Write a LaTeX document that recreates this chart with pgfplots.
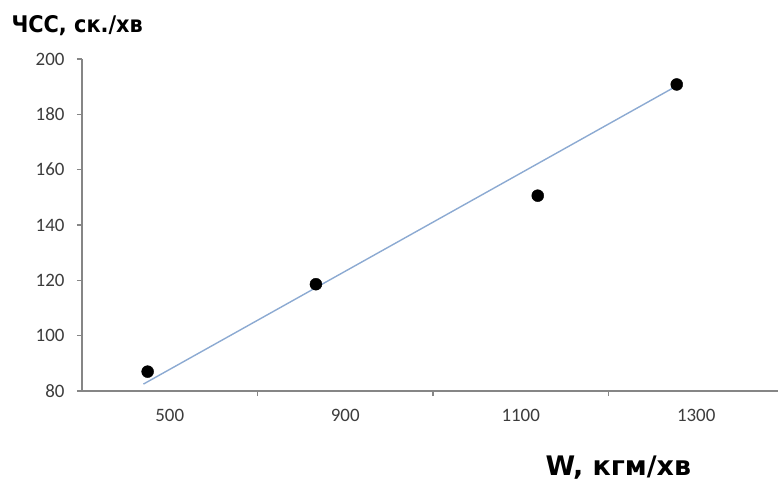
\documentclass[border=0pt]{standalone}
\usepackage{pgfplots}
\pgfplotsset{compat=1.18}
\usepackage{fontspec}
\setmainfont{Carlito}
\newfontfamily\titlefont[FakeStretch=0.91]{DejaVu Sans}
\newfontfamily\xlabfont{DejaVu Sans}
\definecolor{axgray}{RGB}{134,134,134}
\definecolor{tickgray}{RGB}{60,60,60}
\definecolor{trend}{RGB}{140,170,210}
\begin{document}
\begin{tikzpicture}
\begin{axis}[
  scale only axis, width=696bp, height=332bp,
  xmin=0, xmax=3.966, ymin=80, ymax=200,
  axis x line=bottom, axis y line=left,
  axis line style={-, draw=axgray, line width=1.2bp},
  ytick={80,100,...,200},
  xtick={0.5,1.5,2.5,3.5}, xticklabels={500,900,1100,1300},
  minor xtick={1,2,3},
  tick align=outside,
  major tick length=5bp, minor tick length=5bp,
  major x tick style={draw=none},
  minor x tick style={draw=axgray, line width=1.2bp},
  major y tick style={draw=axgray, line width=1.2bp},
  ticklabel style={font=\fontsize{19}{19}\selectfont, text=tickgray},
  xticklabel style={yshift=-10bp},
  yticklabel style={xshift=-9bp},
  /pgf/number format/assume math mode=true,
  clip=false,
]
\addplot[trend, line width=1.4bp] coordinates {(0.35,82.5) (3.37,189.6)};
\addplot[only marks, mark=*, mark size=6bp, black] coordinates {(0.374,87.0) (1.333,118.6) (2.597,150.6) (3.389,190.8)};
\node[anchor=base west, font=\titlefont\bfseries\fontsize{23}{23}\selectfont] at ([shift={(-74bp,26bp)}]rel axis cs:0,1) {ЧСС, ск./хв};
\node[anchor=base west, font=\xlabfont\bfseries\fontsize{27}{27}\selectfont] at ([shift={(460bp,-84bp)}]rel axis cs:0,0) {W, кгм/хв};
\path (rel axis cs:0,0) ++(-82bp,-92bp) rectangle ++(780bp,483bp);
\end{axis}
\end{tikzpicture}
\end{document}
